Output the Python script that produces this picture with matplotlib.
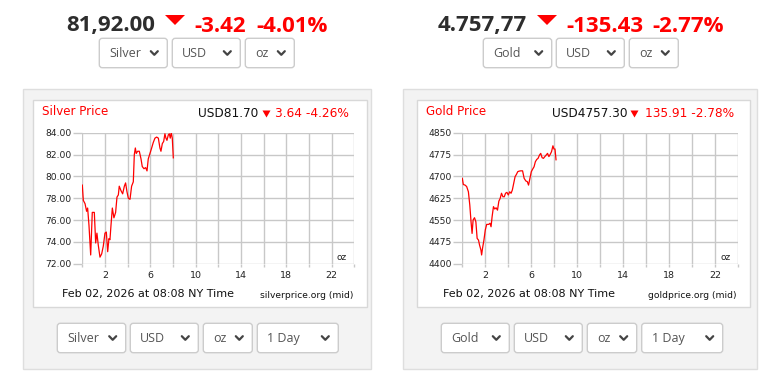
import matplotlib
matplotlib.use("Agg")
import matplotlib.pyplot as plt
from matplotlib.patches import FancyBboxPatch, Rectangle, Polygon

W, H = 772, 377

# silver, 1 day (hours since midnight NY)
silver_hours = [0, .09, .24, .38, .47, .59, .74, .88, 1.06, 1.18,
                1.29, 1.41, 1.56, 1.71, 1.85, 2.0, 2.12, 2.24, 2.35, 2.44,
                2.53, 2.65, 2.79, 2.94, 3.06, 3.18, 3.26, 3.41, 3.56, 3.71,
                3.82, 3.94, 4.06, 4.21, 4.35, 4.5, 4.59, 4.68, 4.76, 4.88,
                5.03, 5.18, 5.29, 5.44, 5.59, 5.71, 5.82, 5.97, 6.12, 6.26,
                6.41, 6.56, 6.71, 6.85, 6.94, 7.06, 7.18, 7.29, 7.38, 7.47,
                7.59, 7.68, 7.76, 7.85, 7.94, 8.03]
silver_price = [79.2, 77.8, 77.5, 76.8, 77.1, 75.5, 72.8, 76.7, 76.7, 73.9,
                74.8, 73.7, 72.6, 72.9, 73.6, 74.8, 74.9, 73.1, 74.3, 74.2,
                75.5, 77.1, 76.2, 76.7, 78.1, 78.3, 79.1, 78.7, 78.4, 79.1,
                79.4, 78.6, 78.0, 77.9, 79.1, 79.5, 82.0, 82.6, 82.1, 82.3,
                82.3, 81.6, 80.9, 80.7, 80.8, 80.5, 81.6, 82.1, 82.6, 83.1,
                83.5, 83.6, 83.5, 82.6, 82.3, 83.0, 83.2, 83.9, 83.5, 83.3,
                83.8, 83.9, 83.5, 84.0, 83.5, 81.7]

# gold, 1 day
gold_hours = [0, .09, .24, .38, .53, .65, .76, .85, .94, 1.06,
              1.18, 1.29, 1.41, 1.5, 1.62, 1.68, 1.76, 1.88, 2.0, 2.12,
              2.29, 2.41, 2.5, 2.59, 2.71, 2.82, 2.94, 3.06, 3.18, 3.29,
              3.41, 3.53, 3.65, 3.76, 3.88, 4.0, 4.12, 4.24, 4.35, 4.47,
              4.59, 4.71, 4.82, 4.94, 5.09, 5.24, 5.38, 5.53, 5.65, 5.76,
              5.88, 6.0, 6.12, 6.24, 6.35, 6.47, 6.59, 6.71, 6.82, 6.94,
              7.06, 7.18, 7.29, 7.41, 7.53, 7.65, 7.76, 7.88, 7.97, 8.06,
              8.15]
gold_price = [4693, 4672, 4670, 4665, 4647, 4602, 4544, 4504, 4550, 4558,
              4544, 4487, 4481, 4464, 4447, 4430, 4453, 4481, 4516, 4535,
              4535, 4539, 4527, 4561, 4596, 4588, 4592, 4584, 4615, 4624,
              4642, 4630, 4630, 4642, 4645, 4636, 4647, 4642, 4653, 4676,
              4699, 4707, 4716, 4718, 4719, 4719, 4693, 4684, 4682, 4670,
              4693, 4716, 4725, 4733, 4750, 4758, 4762, 4773, 4779, 4764,
              4762, 4768, 4773, 4779, 4768, 4776, 4785, 4805, 4794, 4794,
              4757]

silver_yticks = [72, 74, 76, 78, 80, 82, 84]
gold_yticks = [4400, 4475, 4550, 4625, 4700, 4775, 4850]
hour_ticks = list(range(0, 25, 2))
hour_labels = ["", "2", "", "6", "", "10", "", "14", "", "18", "", "22", ""]

RED = "#ff0000"
DARK = "#2d2d2d"

fig = plt.figure(figsize=(W / 100, H / 100), dpi=100)
bg = fig.add_axes([0, 0, 1, 1])
bg.set_xlim(0, W)
bg.set_ylim(H, 0)
bg.axis("off")


def tri(x, y, w, h):
    bg.add_patch(Polygon([[x, y], [x + w, y], [x + w / 2, y + h]],
                         closed=True, color=RED, lw=0))


def dropdown(x0, x1, y0, y1, label):
    bg.add_patch(FancyBboxPatch((x0, y0), x1 - x0, y1 - y0,
                                boxstyle="round,pad=0,rounding_size=3",
                                fc="white", ec="#cccccc", lw=1))
    bg.text(x0 + 10, (y0 + y1) / 2 + 0.5, label, fontsize=9, color="#555555",
            family="Open Sans", ha="left", va="center")
    cx, cy = x1 - 13, (y0 + y1) / 2
    bg.plot([cx - 3.5, cx, cx + 3.5], [cy - 1.8, cy + 1.8, cy - 1.8],
            color="#444444", lw=1.6, solid_capstyle="round")


def headline(x_num, num, x_tri, x_chg, chg, x_pct, pct):
    base = 31.5
    bg.text(x_num, base, num, fontsize=16, fontweight="bold", color=DARK,
            family="Open Sans", va="baseline")
    tri(x_tri, 15, 20, 10)
    bg.text(x_chg, base, chg, fontsize=16, fontweight="bold", color=RED,
            family="Open Sans", va="baseline")
    bg.text(x_pct, base, pct, fontsize=16, fontweight="bold", color=RED,
            family="Open Sans", va="baseline")


def panel(px0, px1, bx0, bx1):
    bg.add_patch(Rectangle((px0, 89), px1 - px0, 280, fc="#f3f3f3",
                           ec="#dedede", lw=1))
    bg.add_patch(Rectangle((bx0, 100), bx1 - bx0, 207, fc="white",
                           ec="#d8d8d8", lw=1))


def chart(ax_x0, ax_x1, hours, price, yticks, yfmt):
    ax = fig.add_axes([ax_x0 / W, 1 - 263.7 / H, (ax_x1 - ax_x0) / W,
                       (263.7 - 132.7) / H])
    ax.set_facecolor("none")
    ax.plot(hours, price, color=RED, lw=0.9, zorder=3)
    ax.set_xlim(0, 24)
    ax.set_ylim(yticks[0], yticks[-1])
    ax.set_xticks(hour_ticks)
    ax.set_xticklabels(hour_labels)
    ax.set_yticks(yticks)
    ax.set_yticklabels([yfmt.format(v) for v in yticks])
    ax.grid(True, color="#c8c8c8", lw=1)
    for s in ax.spines.values():
        s.set_visible(False)
    ax.tick_params(axis="y", length=6.5, width=1, color="#c8c8c8",
                   labelsize=6.6, labelcolor="#222222", pad=1)
    ax.tick_params(axis="x", length=2.5, width=1, color="#c8c8c8",
                   labelsize=6.8, labelcolor="#222222", pad=3)
    ax.text(0.955, 0.045, "oz", transform=ax.transAxes, fontsize=6.5,
            ha="center", va="center", color="#222222")
    return ax


# ---- silver ----
headline(66, "81,92.00", 165, 194, "-3.42", 256, "-4.01%")
dropdown(99.3, 167.3, 38.3, 67.7, "Silver")
dropdown(172.3, 240.3, 38.3, 67.7, "USD")
dropdown(245.3, 294.3, 38.3, 67.7, "oz")
panel(23, 371, 33.3, 366.7)
bg.text(42, 115, "Silver Price", fontsize=8.6, color=RED, va="baseline")
bg.text(197.7, 117, "USD81.70", fontsize=8.7, color="#111111", va="baseline")
tri(262.5, 110.5, 8, 7)
bg.text(275, 117, "3.64 -4.26%", fontsize=8.7, color=RED, va="baseline")
bg.text(62, 294.5, "Feb 02, 2026 at 08:08 NY Time", fontsize=8,
        color="#111111", va="center")
bg.text(353.5, 295, "silverprice.org (mid)", fontsize=6.6, color="#111111",
        va="center", ha="right")
dropdown(57.3, 125.7, 323.3, 352.7, "Silver")
dropdown(130.3, 198.3, 323.3, 352.7, "USD")
dropdown(203.3, 252.3, 323.3, 352.7, "oz")
dropdown(257.3, 338.3, 323.3, 352.7, "1 Day")
chart(82.3, 354.3, silver_hours, silver_price, silver_yticks, "{:.2f}")

# ---- gold ----
headline(438, "4.757,77", 537, 566, "-135.43", 652, "-2.77%")
dropdown(483.3, 551.7, 38.3, 67.7, "Gold")
dropdown(556.3, 624.3, 38.3, 67.7, "USD")
dropdown(629.3, 678.3, 38.3, 67.7, "oz")
panel(403, 757, 417.3, 750)
bg.text(426.5, 115, "Gold Price", fontsize=8.6, color=RED, va="baseline")
bg.text(551.7, 117, "USD4757.30", fontsize=8.7, color="#111111", va="baseline")
tri(630.5, 110.5, 8, 7)
bg.text(645, 117, "135.91 -2.78%", fontsize=8.7, color=RED, va="baseline")
bg.text(443, 294.5, "Feb 02, 2026 at 08:08 NY Time", fontsize=8,
        color="#111111", va="center")
bg.text(736.5, 295, "goldprice.org (mid)", fontsize=6.6, color="#111111",
        va="center", ha="right")
dropdown(441.3, 509.3, 323.3, 352.7, "Gold")
dropdown(514.3, 582.3, 323.3, 352.7, "USD")
dropdown(587.3, 636.7, 323.3, 352.7, "oz")
dropdown(641.7, 722.7, 323.3, 352.7, "1 Day")
chart(462.3, 738.3, gold_hours, gold_price, gold_yticks, "{:.0f}")

fig.savefig("out.png", dpi=100, facecolor="white")
